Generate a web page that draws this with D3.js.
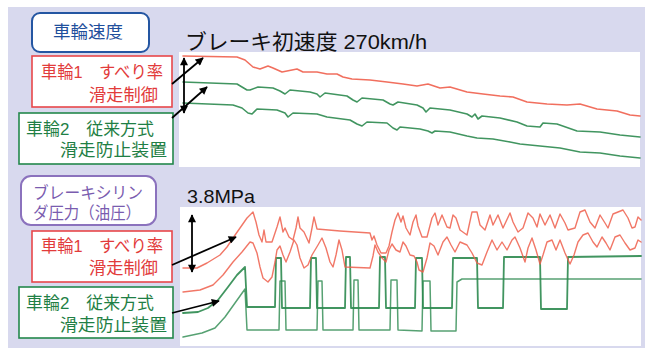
<!DOCTYPE html>
<html><head><meta charset="utf-8">
<script src="https://cdn.jsdelivr.net/npm/d3@7"></script>
<style>
html,body{margin:0;padding:0;background:#fff;}
svg{display:block;}
text{font-family:"Liberation Sans","Noto Sans CJK JP",sans-serif;}
</style></head>
<body>
<script>
// ---------- DATA (time index, trace height) ----------
const topTitle = "ブレーキ初速度 270km/h";
const botTitle = "3.8MPa";

// wheel speed traces (top panel)
const speedWheel1 = [[3,111],[57,110],[65,107],[73,100],[80,98],[88,101],[93,99],[102,95],[117,98],[123,95],[137,95],[147,93],[157,93],[163,90],[172,88],[190,87],[207,85],[223,83],[237,81],[248,83],[260,79],[270,80],[287,75],[303,73],[320,71],[333,70],[347,65],[367,63],[387,62],[400,63],[417,58],[437,56],[450,52],[460,51]];
const speedWheel2A = [[3,85],[57,83],[67,77],[70,77],[78,80],[93,79],[100,76],[105,73],[110,77],[130,75],[137,73],[140,70],[145,74],[167,71],[173,67],[177,65],[182,69],[203,67],[210,63],[213,62],[218,65],[237,62],[243,59],[246,55],[250,59],[270,57],[287,53],[292,50],[295,53],[298,48],[302,51],[320,49],[337,45],[347,41],[360,40],[363,44],[377,43],[397,36],[420,35],[440,32],[460,30]];
const speedWheel2B = [[3,64],[53,62],[62,59],[68,54],[72,53],[77,58],[97,57],[105,54],[108,50],[113,54],[137,53],[147,50],[170,47],[177,43],[182,41],[187,45],[207,44],[213,39],[217,37],[220,40],[240,38],[248,36],[252,34],[255,36],[270,35],[287,31],[297,29],[313,28],[330,25],[340,23],[360,21],[380,19],[400,15],[420,14],[440,11],[460,9]];

// brake cylinder pressure traces (bottom panel)
const pressWheel1A = [[3,78],[17,78],[27,83],[40,91],[47,99],[53,108],[60,118],[67,128],[73,134],[76,124],[79,111],[82,104],[84,116],[86,104],[92,104],[97,119],[100,129],[103,114],[105,118],[109,109],[113,106],[116,118],[118,129],[120,118],[124,114],[129,103],[132,118],[134,129],[137,117],[160,115],[190,113],[192,106],[194,110],[197,101],[201,93],[206,93],[209,100],[212,114],[215,126],[218,133],[221,124],[223,130],[226,118],[230,111],[233,124],[236,131],[238,120],[242,109],[247,109],[252,128],[255,133],[258,121],[262,131],[267,119],[270,118],[273,131],[276,128],[280,116],[287,111],[292,134],[297,134],[300,121],[305,116],[310,131],[313,121],[318,131],[323,118],[330,133],[333,124],[338,114],[343,118],[348,133],[353,128],[357,119],[360,132],[365,121],[370,131],[375,118],[380,132],[385,123],[388,116],[395,118],[400,134],[405,136],[410,124],[415,118],[420,131],[425,123],[428,118],[433,132],[438,134],[443,136],[448,128],[452,118],[455,119],[458,129],[461,126]];
const pressWheel1B = [[3,54],[20,56],[33,61],[43,71],[53,84],[62,94],[70,104],[73,103],[77,93],[80,79],[83,68],[88,64],[92,69],[95,84],[97,96],[100,100],[103,91],[106,84],[110,94],[114,106],[117,101],[120,88],[124,78],[128,81],[132,91],[138,101],[142,108],[146,98],[150,84],[153,79],[156,91],[159,106],[162,96],[165,79],[190,78],[193,90],[195,101],[198,94],[202,88],[206,84],[209,96],[212,102],[216,96],[220,94],[223,104],[226,100],[230,91],[234,90],[237,84],[239,76],[243,74],[247,88],[250,103],[254,100],[258,91],[263,104],[267,109],[271,101],[275,94],[280,104],[287,101],[292,93],[297,83],[302,81],[307,94],[312,106],[317,96],[322,104],[327,96],[332,106],[335,109],[340,98],[345,84],[348,98],[352,108],[356,96],[360,82],[363,91],[367,104],[372,106],[376,96],[380,106],[385,93],[390,82],[394,91],[398,104],[403,111],[408,113],[413,104],[417,99],[422,109],[426,103],[430,96],[435,109],[440,111],[445,103],[450,96],[455,98],[458,106],[461,104]];
const pressWheel2A = [[3,33],[18,34],[28,38],[38,46],[48,59],[57,71],[65,79],[67,39],[95,39],[96,88],[101,88],[102,38],[130,38],[131,88],[136,88],[137,38],[165,38],[166,89],[170,89],[171,38],[199,38],[200,89],[205,89],[206,38],[235,38],[236,88],[242,88],[243,38],[272,38],[273,88],[297,88],[298,38],[323,38],[324,89],[360,89],[361,37],[387,37],[388,89],[461,90]];
const pressWheel2B = [[3,9],[22,13],[35,18],[45,29],[55,43],[65,57],[67,16],[99,16],[100,65],[105,65],[106,16],[137,16],[138,65],[142,65],[143,16],[173,16],[174,66],[178,66],[179,16],[210,16],[211,66],[217,66],[218,16],[242,15],[243,65],[250,65],[251,15],[276,15],[277,64],[282,67],[461,67]];

// label texts
const labelSpeed = ["車輪速度"];
const labelPress = ["ブレーキシリン", "ダ圧力（油圧）"];
const labelWheel1 = ["車輪1　すべり率", "滑走制御"];
const labelWheel2 = ["車輪2　従来方式", "滑走防止装置"];

// ---------- DRAWING ----------
const W = 649, H = 348;
const svg = d3.select("body").append("svg").attr("width", W).attr("height", H);

const RED = "#ef5f4c", GREEN = "#2c8a4f";

svg.append("rect").attr("x", 8).attr("y", 7).attr("width", 637).attr("height", H - 7).attr("fill", "#d8d9ee");

const defs = svg.append("defs");
defs.append("marker").attr("id", "ah").attr("viewBox", "0 0 10 10")
  .attr("refX", 9).attr("refY", 5).attr("markerWidth", 9).attr("markerHeight", 8)
  .attr("markerUnits", "userSpaceOnUse").attr("orient", "auto-start-reverse")
  .append("path").attr("d", "M0,0L10,5L0,10z").attr("fill", "#000");

// panels
const topP = {x0: 179, x1: 640, y0: 52, y1: 167};
const botP = {x0: 180, x1: 641, y0: 207, y1: 346};
[topP, botP].forEach(p => svg.append("rect").attr("x", p.x0).attr("y", p.y0)
  .attr("width", p.x1 - p.x0).attr("height", p.y1 - p.y0).attr("fill", "#fff"));

const xTop = d3.scaleLinear().domain([0, 460]).range([180, 640]);
const yTop = d3.scaleLinear().domain([0, 115]).range([topP.y1, topP.y0]);
const xBot = d3.scaleLinear().domain([0, 461]).range([180, 641]);
const yBot = d3.scaleLinear().domain([0, 139]).range([botP.y1, botP.y0]);

function drawLine(data, xs, ys, color, w, op) {
  const line = d3.line().x(d => xs(d[0])).y(d => ys(d[1]));
  svg.append("path").datum(data).attr("d", line).attr("fill", "none")
    .attr("stroke", color).attr("stroke-width", w).attr("stroke-opacity", op)
    .attr("stroke-linejoin", "round").attr("stroke-linecap", "round");
}
drawLine(speedWheel1, xTop, yTop, RED, 1.6, 0.9);
drawLine(speedWheel2A, xTop, yTop, GREEN, 1.6, 0.9);
drawLine(speedWheel2B, xTop, yTop, GREEN, 1.6, 0.9);

drawLine(pressWheel2B, xBot, yBot, GREEN, 1.5, 0.8);
drawLine(pressWheel2A, xBot, yBot, GREEN, 1.8, 0.9);
drawLine(pressWheel1B, xBot, yBot, RED, 1.4, 0.85);
drawLine(pressWheel1A, xBot, yBot, RED, 1.4, 0.85);

// titles
svg.append("text").attr("x", 185).attr("y", 49).attr("font-size", 21).attr("fill", "#111")
  .attr("textLength", 242).attr("lengthAdjust", "spacingAndGlyphs").text(topTitle);
svg.append("text").attr("x", 187).attr("y", 203).attr("font-size", 19).attr("fill", "#111")
  .attr("textLength", 68).attr("lengthAdjust", "spacingAndGlyphs").text(botTitle);

// label boxes
function box(x, y, w, h, stroke, rx) {
  svg.append("rect").attr("x", x).attr("y", y).attr("width", w).attr("height", h)
    .attr("rx", rx).attr("fill", "#fff").attr("stroke", stroke).attr("stroke-width", rx ? 2 : 1.6);
}
// lines: [text, x, baseline, textLength]
function label(lines, color, size) {
  lines.forEach(l => svg.append("text").attr("font-size", size).attr("fill", color)
    .attr("x", l[1]).attr("y", l[2])
    .attr("textLength", l[3]).attr("lengthAdjust", "spacingAndGlyphs").text(l[0]));
}
const BLUE = "#2456a2", PURP = "#8b72bd", BRED = "#e8474a", BGREEN = "#23884c";
const TRED = "#e23b3b", TGREEN = "#1f7f45";

box(32, 13, 117, 39, BLUE, 8);
label([[labelSpeed[0], 53, 38, 70]], "#1f4f9c", 17);

box(32, 56, 140, 51, BRED, 0);
label([[labelWheel1[0], 41, 78, 122], [labelWheel1[1], 89, 101, 69]], TRED, 17);
box(19, 113, 154, 51, BGREEN, 0);
label([[labelWheel2[0], 26, 135, 128], [labelWheel2[1], 60, 156, 107]], TGREEN, 17);

box(21, 176, 135, 49, PURP, 10);
label([[labelPress[0], 33, 199, 110], [labelPress[1], 33, 219, 108]], "#7a5caf", 16.5);

box(32, 231, 140, 51, BRED, 0);
label([[labelWheel1[0], 41, 252, 122], [labelWheel1[1], 89, 274, 69]], TRED, 17);
box(19, 287, 154, 51, BGREEN, 0);
label([[labelWheel2[0], 26, 309, 128], [labelWheel2[1], 60, 331, 107]], TGREEN, 17);

// arrows (annotation)
const arrows = [
  {x1: 184, y1: 58, x2: 184, y2: 113, both: true},
  {x1: 172, y1: 84, x2: 203, y2: 58},
  {x1: 172, y1: 118, x2: 207, y2: 87},
  {x1: 192, y1: 215, x2: 192, y2: 272, both: true},
  {x1: 172, y1: 265, x2: 236, y2: 237},
  {x1: 172, y1: 313, x2: 219, y2: 301}
];
arrows.forEach(a => {
  const l = svg.append("line").attr("x1", a.x1).attr("y1", a.y1).attr("x2", a.x2).attr("y2", a.y2)
    .attr("stroke", "#000").attr("stroke-width", 1.8).attr("marker-end", "url(#ah)");
  if (a.both) l.attr("marker-start", "url(#ah)");
});
</script>
</body></html>
